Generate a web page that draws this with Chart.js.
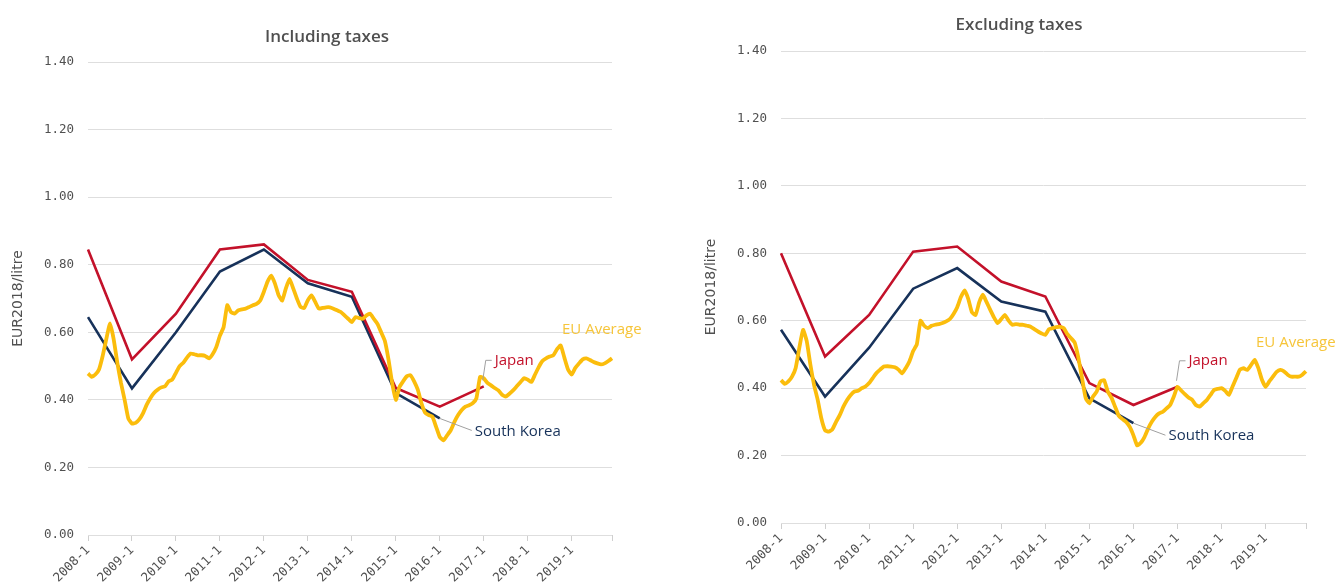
<!DOCTYPE html>
<html>
<head>
<meta charset="utf-8">
<script src="https://cdn.jsdelivr.net/npm/chart.js@4.4.0/dist/chart.umd.min.js"></script>
<style>
  html, body { margin: 0; padding: 0; background: #fff; }
  #wrap { position: relative; width: 1341px; height: 586px; overflow: hidden; }
  #chartIncl { position: absolute; left: 0; top: 0; }
  #chartExcl { position: absolute; left: 670px; top: 0; }
</style>
</head>
<body>
<div id="wrap">
  <canvas id="chartIncl" width="670" height="586"></canvas>
  <canvas id="chartExcl" width="671" height="586"></canvas>
</div>
<script>
// ------------------------------------------------------------
// Data (EUR2018 / litre)
// ------------------------------------------------------------
const yearLabels = ["2008-1", "2009-1", "2010-1", "2011-1", "2012-1",
                    "2013-1", "2014-1", "2015-1", "2016-1", "2017-1"];

// monthly category axis 2008-1 .. 2019-12
const monthLabels = [];
for (let y = 2008; y <= 2019; y++) {
    for (let m = 1; m <= 12; m++) monthLabels.push(y + "-" + m);
}

// Including taxes
const japanIncl = [0.845, 0.52, 0.655, 0.845, 0.86, 0.755, 0.72, 0.435, 0.38, 0.44];
const koreaIncl = [0.645, 0.434, 0.60, 0.78, 0.845, 0.745, 0.705, 0.42, 0.345];
const euIncl = [
    0.478, 0.468, 0.475, 0.49, 0.53, 0.58, 0.626, 0.58, 0.51, 0.45, 0.40, 0.345,
    0.33, 0.332, 0.342, 0.36, 0.385, 0.405, 0.42, 0.43, 0.437, 0.44, 0.455, 0.46,
    0.48, 0.50, 0.51, 0.525, 0.537, 0.535, 0.532, 0.532, 0.53, 0.523, 0.535, 0.556,
    0.59, 0.615, 0.68, 0.66, 0.655, 0.665, 0.668, 0.67, 0.675, 0.68, 0.684, 0.694,
    0.72, 0.75, 0.768, 0.745, 0.71, 0.694, 0.73, 0.758, 0.73, 0.70, 0.675, 0.672,
    0.695, 0.709, 0.69, 0.67, 0.672, 0.674, 0.674, 0.67, 0.665, 0.66, 0.65, 0.64,
    0.63, 0.645, 0.642, 0.64, 0.65, 0.655, 0.64, 0.625, 0.60, 0.575, 0.52, 0.45,
    0.40, 0.438, 0.455, 0.47, 0.473, 0.455, 0.43, 0.39, 0.362, 0.355, 0.35, 0.32,
    0.29, 0.28, 0.295, 0.31, 0.335, 0.355, 0.37, 0.38, 0.384, 0.39, 0.405, 0.468,
    0.464, 0.45, 0.443, 0.435, 0.428, 0.415, 0.41, 0.418, 0.428, 0.44, 0.452, 0.464,
    0.46, 0.453, 0.475, 0.497, 0.515, 0.523, 0.528, 0.532, 0.55, 0.561, 0.525, 0.49,
    0.475, 0.495, 0.508, 0.52, 0.523, 0.518, 0.512, 0.508, 0.505, 0.508, 0.515, 0.523
];

// Excluding taxes
const japanExcl = [0.80, 0.494, 0.617, 0.805, 0.82, 0.716, 0.672, 0.415, 0.35, 0.404];
const koreaExcl = [0.573, 0.375, 0.52, 0.695, 0.756, 0.657, 0.627, 0.37, 0.296];
const euExcl = [
    0.424, 0.413, 0.42, 0.434, 0.46, 0.52, 0.573, 0.54, 0.47, 0.41, 0.365, 0.31,
    0.275, 0.271, 0.278, 0.30, 0.32, 0.345, 0.365, 0.38, 0.39, 0.392, 0.40, 0.405,
    0.415, 0.43, 0.445, 0.455, 0.464, 0.465, 0.464, 0.462, 0.455, 0.444, 0.46, 0.48,
    0.51, 0.53, 0.60, 0.585, 0.578, 0.585, 0.588, 0.59, 0.593, 0.598, 0.605, 0.62,
    0.64, 0.67, 0.69, 0.665, 0.625, 0.617, 0.655, 0.677, 0.655, 0.632, 0.61, 0.593,
    0.605, 0.617, 0.60, 0.588, 0.59, 0.588, 0.588, 0.585, 0.582, 0.575, 0.568, 0.562,
    0.558, 0.575, 0.578, 0.581, 0.582, 0.578, 0.56, 0.548, 0.535, 0.49, 0.43, 0.37,
    0.355, 0.375, 0.39, 0.42, 0.424, 0.39, 0.372, 0.345, 0.318, 0.308, 0.30, 0.285,
    0.26, 0.23, 0.238, 0.255, 0.28, 0.30, 0.315, 0.325, 0.33, 0.34, 0.35, 0.375,
    0.404, 0.393, 0.382, 0.372, 0.365, 0.35, 0.345, 0.355, 0.365, 0.38, 0.395, 0.398,
    0.40, 0.392, 0.38, 0.405, 0.43, 0.455, 0.459, 0.454, 0.468, 0.484, 0.46, 0.425,
    0.404, 0.42, 0.434, 0.448, 0.454, 0.45, 0.44, 0.434, 0.434, 0.434, 0.44, 0.45
];

const yTicks = [0, 0.2, 0.4, 0.6, 0.8, 1.0, 1.2, 1.4];

const COLORS = {
    eu: "#fbbd0c",
    euText: "#f6c53a",
    japan: "#c3112a",
    korea: "#17325a",
    leader: "#a0a0a0",
    grid: "#dedede",
    text: "#505050"
};

// ------------------------------------------------------------
// Plugin: chart title + series labels with leader lines
// ------------------------------------------------------------
const seriesLabels = {
    id: "seriesLabels",
    afterDatasetsDraw(chart, args, opts) {
        const ctx = chart.ctx;
        const xs = chart.scales.x;
        const ys = chart.scales.y;

        ctx.save();
        ctx.font = "600 17px 'Open Sans', sans-serif";
        ctx.fillStyle = "#505050";
        ctx.textAlign = "center";
        ctx.textBaseline = "middle";
        ctx.fillText(opts.title, opts.titleX, opts.titleY);

        ctx.font = "15px 'Open Sans', sans-serif";
        ctx.textAlign = "left";
        opts.notes.forEach(n => {
            const px = xs.getPixelForValue(monthLabels.indexOf(n.at));
            const py = ys.getPixelForValue(n.value);
            if (n.leader) {
                ctx.strokeStyle = COLORS.leader;
                ctx.lineWidth = 1;
                ctx.beginPath();
                n.leader.forEach((p, i) => {
                    if (i === 0) ctx.moveTo(px + p[0], py + p[1]);
                    else ctx.lineTo(px + p[0], py + p[1]);
                });
                ctx.stroke();
            }
            ctx.fillStyle = n.color;
            ctx.fillText(n.text, px + n.dx, py + n.dy);
        });
        ctx.restore();
    }
};

function toYearPoints(values) {
    return values.map((v, i) => ({ x: yearLabels[i], y: v }));
}

function makeChart(canvasId, eu, japan, korea, cfg) {
    const canvas = document.querySelector(canvasId);

    new Chart(canvas, {
        type: "line",
        data: {
            labels: monthLabels,
            datasets: [
                {
                    label: "EU Average",
                    data: eu,
                    borderColor: COLORS.eu,
                    borderWidth: 3.8,
                    tension: 0.15,
                    pointRadius: 0,
                    fill: false
                },
                {
                    label: "Japan",
                    data: toYearPoints(japan),
                    borderColor: COLORS.japan,
                    borderWidth: 2.6,
                    pointRadius: 0,
                    spanGaps: true,
                    fill: false
                },
                {
                    label: "South Korea",
                    data: toYearPoints(korea),
                    borderColor: COLORS.korea,
                    borderWidth: 2.6,
                    pointRadius: 0,
                    spanGaps: true,
                    fill: false
                }
            ]
        },
        options: {
            responsive: false,
            animation: false,
            devicePixelRatio: 1,
            layout: {
                padding: { left: cfg.padLeft, right: cfg.padRight, top: cfg.padTop, bottom: 0 }
            },
            scales: {
                x: {
                    type: "category",
                    offset: false,
                    grid: {
                        drawOnChartArea: false,
                        drawTicks: true,
                        tickLength: 6,
                        color: "#cfcfcf"
                    },
                    border: { display: false },
                    ticks: {
                        autoSkip: false,
                        minRotation: 45,
                        maxRotation: 45,
                        padding: 2,
                        color: COLORS.text,
                        font: { family: "'DejaVu Sans Mono', monospace", size: 12.5 },
                        callback: function (val, idx) {
                            const lab = this.getLabelForValue(val);
                            if (lab.endsWith("-1")) return lab;
                            if (idx === monthLabels.length - 1) return "";
                            return null;
                        }
                    },
                    afterFit: (scale) => { scale.height = cfg.xHeight; }
                },
                y: {
                    min: 0,
                    max: 1.4,
                    afterBuildTicks: (scale) => {
                        scale.ticks = yTicks.map(v => ({ value: v }));
                    },
                    grid: { color: COLORS.grid, drawTicks: false, lineWidth: 1 },
                    border: { display: false },
                    ticks: {
                        padding: 14,
                        color: COLORS.text,
                        font: { family: "'DejaVu Sans Mono', monospace", size: 12.5 },
                        callback: (v) => Number(v).toFixed(2)
                    },
                    title: {
                        display: true,
                        text: "EUR2018/litre",
                        color: COLORS.text,
                        font: { family: "'DejaVu Sans', sans-serif", size: 14 }
                    },
                    afterFit: (scale) => { scale.width = cfg.yWidth; }
                }
            },
            plugins: {
                legend: { display: false },
                tooltip: { enabled: false },
                seriesLabels: {
                    title: cfg.title,
                    titleX: cfg.titleX,
                    titleY: cfg.titleY,
                    notes: [
                        { text: "Japan", at: "2017-1", value: japan[japan.length - 1],
                          color: COLORS.japan, dx: 11, dy: -26,
                          leader: [[-1, -6], [2, -26], [8, -26]] },
                        { text: "South Korea", at: "2016-1", value: korea[korea.length - 1],
                          color: COLORS.korea, dx: 35, dy: 13,
                          leader: [[0, 0], [32, 12]] },
                        { text: "EU Average", at: "2019-12", value: eu[eu.length - 1],
                          color: COLORS.euText, dx: -50, dy: -29 }
                    ]
                }
            }
        },
        plugins: [seriesLabels]
    });
}

makeChart("#chartIncl", euIncl, japanIncl, koreaIncl, {
    title: "Including taxes", titleX: 327, titleY: 37,
    padLeft: 6, padRight: 58, padTop: 62,
    yWidth: 82, xHeight: 51
});

makeChart("#chartExcl", euExcl, japanExcl, koreaExcl, {
    title: "Excluding taxes", titleX: 349, titleY: 25,
    padLeft: 29, padRight: 35, padTop: 51,
    yWidth: 82, xHeight: 63
});
</script>
</body>
</html>
